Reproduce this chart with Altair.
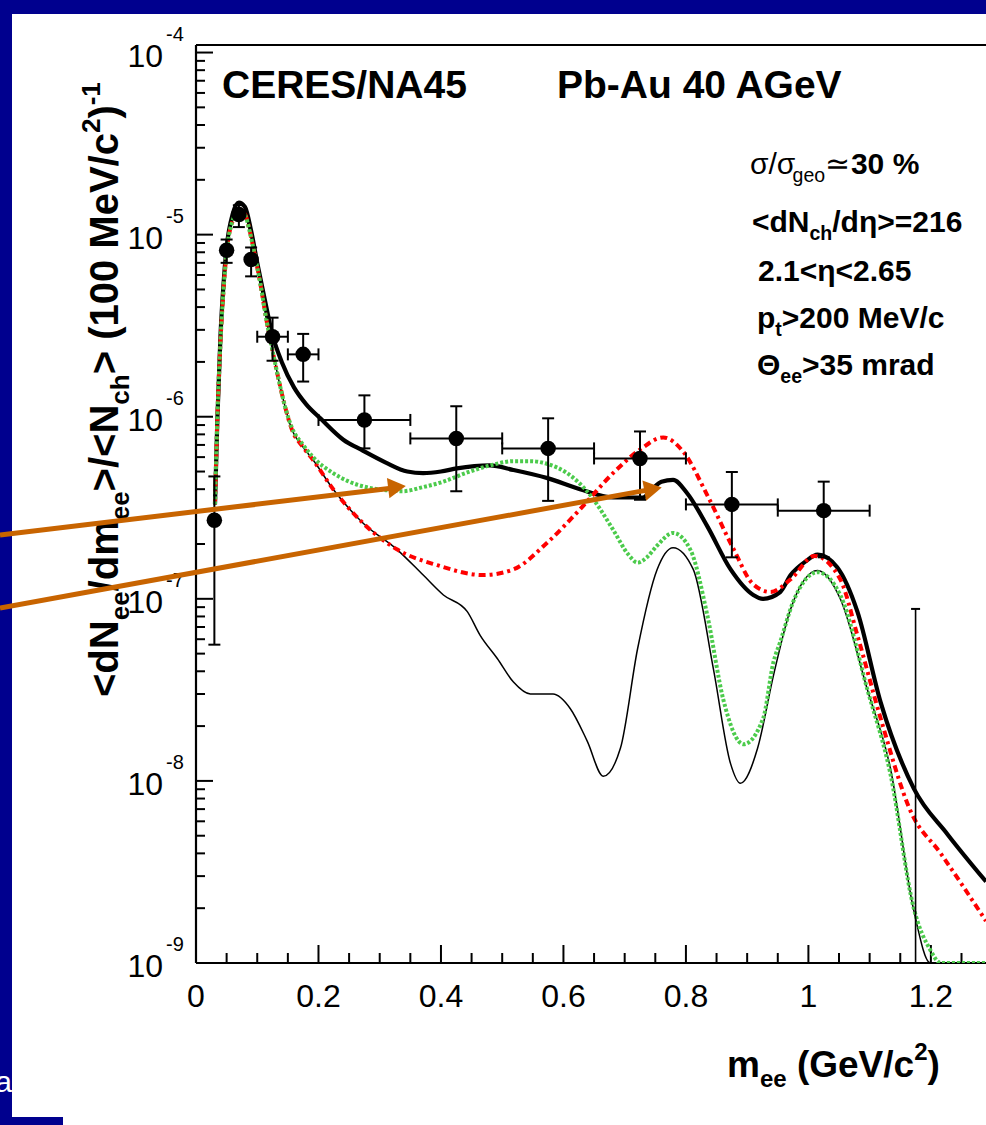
import altair as alt
import pandas as pd

# ---------------- data ----------------
thick_m = [0.031,0.035,0.04,0.045,0.05,0.06,0.07,0.08,0.09,0.10,0.11,0.125,0.14,0.16,0.18,0.203,0.24,0.273,0.31,0.345,0.371,0.40,0.426,0.48,0.518,0.574,0.627,0.681,0.73,0.745,0.76,0.779,0.802,0.835,0.873,0.91,0.926,0.954,0.971,0.995,1.015,1.047,1.08,1.118,1.172,1.227,1.29]
thick_v = [3.3e-7,1.0e-6,2.8e-6,5.4e-6,8.5e-6,1.3e-5,1.5e-5,1.42e-5,1.05e-5,7.0e-6,4.8e-6,2.8e-6,2.0e-6,1.45e-6,1.17e-6,9.8e-7,7.5e-7,6.5e-7,5.6e-7,5.0e-7,4.9e-7,5.0e-7,5.2e-7,5.4e-7,5.1e-7,4.6e-7,4.0e-7,3.6e-7,3.6e-7,4.0e-7,4.4e-7,4.5e-7,3.8e-7,2.5e-7,1.45e-7,1.05e-7,1.0e-7,1.09e-7,1.35e-7,1.6e-7,1.75e-7,1.49e-7,8.5e-8,2.7e-8,9.1e-9,5.1e-9,2.8e-9]

red_m = [0.031,0.035,0.04,0.045,0.05,0.06,0.07,0.08,0.088,0.095,0.105,0.115,0.125,0.135,0.145,0.156,0.175,0.191,0.224,0.273,0.328,0.394,0.469,0.518,0.574,0.627,0.681,0.725,0.763,0.796,0.835,0.877,0.91,0.938,0.971,1.01,1.052,1.08,1.118,1.167,1.216,1.29]
red_v = [3.3e-7,1.0e-6,2.6e-6,5.0e-6,8.0e-6,1.2e-5,1.38e-5,1.3e-5,1.04e-5,8.0e-6,5.4e-6,3.4e-6,2.3e-6,1.6e-6,1.15e-6,8.6e-7,6.8e-7,5.8e-7,4.0e-7,2.6e-7,1.87e-7,1.53e-7,1.35e-7,1.45e-7,2.04e-7,3.1e-7,4.9e-7,6.6e-7,7.7e-7,6.4e-7,3.7e-7,1.9e-7,1.2e-7,1.09e-7,1.28e-7,1.72e-7,1.28e-7,6.3e-8,2.2e-8,6.8e-9,4.0e-9,1.7e-9]

green_m = [0.031,0.035,0.04,0.045,0.05,0.06,0.07,0.08,0.088,0.095,0.105,0.115,0.125,0.135,0.145,0.156,0.175,0.191,0.224,0.25,0.279,0.31,0.338,0.37,0.404,0.44,0.48,0.518,0.547,0.574,0.606,0.644,0.681,0.706,0.721,0.737,0.753,0.779,0.807,0.835,0.861,0.894,0.926,0.943,0.954,0.975,1.015,1.052,1.096,1.134,1.172,1.199,1.216,1.29]
green_v = [3.3e-7,1.0e-6,2.6e-6,5.0e-6,8.0e-6,1.2e-5,1.36e-5,1.28e-5,1.03e-5,8.0e-6,5.4e-6,3.4e-6,2.3e-6,1.6e-6,1.15e-6,8.8e-7,7.0e-7,6.0e-7,4.9e-7,4.4e-7,4.1e-7,3.95e-7,3.9e-7,4.1e-7,4.4e-7,4.9e-7,5.4e-7,5.7e-7,5.7e-7,5.5e-7,4.9e-7,3.7e-7,2.4e-7,1.75e-7,1.58e-7,1.7e-7,1.96e-7,2.3e-7,1.87e-7,8.1e-8,2.8e-8,1.59e-8,2.2e-8,4.5e-8,5.8e-8,9.6e-8,1.4e-7,1.05e-7,3.2e-8,1.09e-8,2.0e-9,1.18e-9,1.0e-9,1.0e-9]

thin_m = [0.031,0.035,0.04,0.045,0.05,0.06,0.07,0.08,0.088,0.095,0.105,0.115,0.125,0.135,0.145,0.156,0.175,0.191,0.224,0.273,0.328,0.371,0.404,0.443,0.464,0.492,0.518,0.546,0.583,0.611,0.639,0.665,0.693,0.721,0.753,0.779,0.812,0.845,0.873,0.889,0.917,0.943,0.971,1.015,1.052,1.096,1.134,1.172,1.199,1.22]
thin_v = [3.3e-7,1.0e-6,2.6e-6,5.0e-6,8.0e-6,1.2e-5,1.36e-5,1.28e-5,1.03e-5,8.0e-6,5.4e-6,3.4e-6,2.3e-6,1.6e-6,1.15e-6,8.6e-7,6.8e-7,5.8e-7,4.0e-7,2.6e-7,1.87e-7,1.35e-7,1.05e-7,8.5e-8,6.3e-8,4.7e-8,3.5e-8,3.0e-8,3.0e-8,2.5e-8,1.65e-8,1.06e-8,1.51e-8,5.3e-8,1.45e-7,1.91e-7,1.45e-7,4.1e-8,1.24e-8,9.7e-9,1.51e-8,3.8e-8,8.8e-8,1.43e-7,1.0e-7,3.2e-8,1.17e-8,1.95e-9,1.0e-9,1.0e-9]

pt_m = [0.03,0.05,0.07,0.09,0.125,0.175,0.275,0.425,0.575,0.725,0.875,1.025]
pt_v = [2.7e-7,8.2e-6,1.29e-5,7.3e-6,2.75e-6,2.2e-6,9.6e-7,7.6e-7,6.7e-7,5.9e-7,3.3e-7,3.05e-7]
pt_lo = [5.6e-8,7.0e-6,1.1e-5,5.9e-6,2.03e-6,1.56e-6,6.7e-7,3.9e-7,3.45e-7,3.5e-7,1.69e-7,1.69e-7]
pt_hi = [4.7e-7,9.4e-6,1.45e-5,8.5e-6,3.5e-6,2.85e-6,1.31e-6,1.14e-6,9.8e-7,8.3e-7,4.97e-7,4.4e-7]
pt_xerr = [0,0,0,0,0.025,0.025,0.075,0.075,0.075,0.075,0.075,0.075]

bar_m = [1.175]
bar_lo = [1.0e-9]
bar_hi = [8.8e-8]

y_major = [1e-9, 1e-8, 1e-7, 1e-6, 1e-5, 1e-4]
y_exp = ["-9", "-8", "-7", "-6", "-5", "-4"]
x_major = [0.0, 0.2, 0.4, 0.6, 0.8, 1.0, 1.2]
x_labels = ["0", "0.2", "0.4", "0.6", "0.8", "1", "1.2"]

# ---------------- layout constants ----------------
W, H = 790, 918
PL, PT = 196, 45
FONT = "Liberation Sans"
BLUE = "#00008E"
ORANGE = "#C86400"

xs = alt.Scale(domain=[0, 1.29], nice=False, zero=False)
ys = alt.Scale(type="log", domain=[1e-9, 1.1e-4], nice=False)

REG = {' ':278,'(':333,')':333,'-':333,'/':278,'.':278,'<':584,'>':584,'=':584,'%':889,
       'a':556,'c':500,'d':556,'e':556,'g':556,'h':556,'m':833,'o':556,'p':556,'r':333,'t':278,
       'A':667,'C':722,'E':667,'G':778,'M':833,'N':722,'P':667,'R':722,'S':667,'V':667,'b':556,'u':556,
       'σ':570,'η':560,'Θ':778,'≃':584}
BOLD = {' ':278,'(':333,')':333,'-':333,'/':278,'.':278,'<':584,'>':584,'=':584,'%':889,
        'a':556,'c':556,'d':611,'e':556,'g':611,'h':611,'m':889,'o':611,'p':611,'r':389,'t':333,
        'A':722,'C':722,'E':667,'G':778,'M':833,'N':722,'P':667,'R':722,'S':667,'V':667,'b':611,'u':611,
        'σ':610,'η':610,'Θ':778,'≃':584}


def tw(s, size, bold):
    tab = BOLD if bold else REG
    return sum(tab.get(ch, 556) for ch in s) * size / 1000.0


def piece_size(size, kind):
    return size if kind == "n" else size * 0.65


def split_lead(t):
    body = t.lstrip(" ")
    return t[: len(t) - len(body)], body


def layout_h(pieces, x0, y0, size, reg_rows, bold_rows):
    x = x0
    for t, kind, b in pieces:
        fs = piece_size(size, kind)
        dy = 0 if kind == "n" else (size * 0.28 if kind == "sub" else -size * 0.45)
        lead, body = split_lead(t)
        xr = x + tw(lead, fs, b)
        (bold_rows if b else reg_rows).append(dict(px=xr - PL, py=y0 + dy - PT, txt=body, fs=fs))
        x += tw(t, fs, b)


def layout_v(pieces, xb, y0, size, rows):
    y = y0
    for t, kind, b in pieces:
        fs = piece_size(size, kind)
        dx = 0 if kind == "n" else (size * 0.28 if kind == "sub" else -size * 0.45)
        lead, body = split_lead(t)
        yr = y - tw(lead, fs, b)
        rows.append(dict(px=xb + dx - PL, py=yr - PT, txt=body, fs=fs))
        y -= tw(t, fs, b)


reg_rows, bold_rows, rot_rows = [], [], []
# header
layout_h([("CERES/NA45", "n", True)], 222, 98, 39, reg_rows, bold_rows)
layout_h([("Pb-Au 40 AGeV", "n", True)], 557, 98, 39, reg_rows, bold_rows)
# annotation block
layout_h([("σ/σ", "n", False), ("geo", "sub", False), ("≃", "n", False), (" 30 %", "n", True)], 750, 174, 30, reg_rows, bold_rows)
layout_h([("<dN", "n", True), ("ch", "sub", True), ("/dη>=216", "n", True)], 752, 232, 30, reg_rows, bold_rows)
layout_h([("2.1<η<2.65", "n", True)], 758, 281, 30, reg_rows, bold_rows)
layout_h([("p", "n", True), ("t", "sub", True), (">200 MeV/c", "n", True)], 757, 328, 30, reg_rows, bold_rows)
layout_h([("Θ", "n", True), ("ee", "sub", True), (">35 mrad", "n", True)], 757, 375, 30, reg_rows, bold_rows)
# x axis title
layout_h([("m", "n", True), ("ee", "sub", True), (" (GeV/c", "n", True), ("2", "sup", True), (")", "n", True)], 727, 1077, 37, reg_rows, bold_rows)
# y axis title (rotated)
layout_v([("<dN", "n", True), ("ee", "sub", True), ("/dm", "n", True), ("ee", "sub", True),
          (">/<N", "n", True), ("ch", "sub", True), ("> (100 MeV/c", "n", True), ("2", "sup", True),
          (")", "n", True), ("-1", "sup", True)], 118, 697, 40, rot_rows)


def text_layer(rows, weight, angle=0, color="black"):
    return alt.Chart(pd.DataFrame(rows)).mark_text(
        align="left", baseline="alphabetic", font=FONT, fontWeight=weight, angle=angle, color=color
    ).encode(
        x=alt.X("px:Q", scale=None, axis=None),
        y=alt.Y("py:Q", scale=None, axis=None),
        text="txt:N",
        size=alt.Size("fs:Q", scale=None, legend=None),
    )


dummy = pd.DataFrame({"d": [0]})


def rect(x1, x2, y1, y2, color):
    return alt.Chart(dummy).mark_rect(color=color).encode(
        x=alt.value(x1), x2=alt.value(x2), y=alt.value(y1), y2=alt.value(y2))


def rule(x1, x2, y1, y2, color="black", width=2.2):
    return alt.Chart(dummy).mark_rule(color=color, strokeWidth=width).encode(
        x=alt.value(x1), x2=alt.value(x2), y=alt.value(y1), y2=alt.value(y2))


X = alt.X("m:Q", scale=xs, axis=None)
Y = alt.Y("v:Q", scale=ys, axis=None)


def curve(ms, vs, color, width, dash=None):
    kw = dict(color=color, strokeWidth=width, clip=True, interpolate="monotone")
    if dash:
        kw["strokeDash"] = dash
    return alt.Chart(pd.DataFrame({"m": ms, "v": vs})).mark_line(**kw).encode(x=X, y=Y)


layers = []
# slide background pieces
layers.append(rect(-PL, -PL + 12, -PT, 1125 - PT, BLUE))
layers.append(rect(-PL, W, -PT, -PT + 14, BLUE))
layers.append(rect(-PL, -PL + 63, 1117 - PT, 1125 - PT, BLUE))
layers.append(alt.Chart(dummy).mark_text(align="right", baseline="alphabetic", font=FONT, fontSize=30,
                                         color="white").encode(
    x=alt.value(-PL + 12), y=alt.value(1092 - PT), text=alt.value("a")))

# frame
layers.append(rule(0, W, 0, 0))
layers.append(rule(0, 0, 0, H))
layers.append(rule(0, W, H, H))

# ticks
y_minor = [k * 10.0 ** e for e in range(-9, -4) for k in range(2, 10)]
x_minor = [round(0.05 * i, 2) for i in range(1, 26) if i % 4 != 0]
layers.append(alt.Chart(pd.DataFrame({"v": y_major})).mark_rule(color="black", strokeWidth=2).encode(
    y=Y, x=alt.value(0), x2=alt.value(17)))
layers.append(alt.Chart(pd.DataFrame({"v": y_minor})).mark_rule(color="black", strokeWidth=2).encode(
    y=Y, x=alt.value(0), x2=alt.value(9)))
layers.append(alt.Chart(pd.DataFrame({"m": x_major})).mark_rule(color="black", strokeWidth=2).encode(
    x=X, y=alt.value(H), y2=alt.value(H - 18)))
layers.append(alt.Chart(pd.DataFrame({"m": x_minor})).mark_rule(color="black", strokeWidth=2).encode(
    x=X, y=alt.value(H), y2=alt.value(H - 10)))

# tick labels
layers.append(alt.Chart(pd.DataFrame({"v": y_major, "t": ["10"] * 6})).mark_text(
    align="right", baseline="middle", font=FONT, fontSize=32, dy=4, color="black").encode(
    y=Y, x=alt.value(-33), text="t:N"))
layers.append(alt.Chart(pd.DataFrame({"v": y_major, "t": y_exp})).mark_text(
    align="left", baseline="middle", font=FONT, fontSize=20, dy=-18, color="black").encode(
    y=Y, x=alt.value(-30), text="t:N"))
layers.append(alt.Chart(pd.DataFrame({"m": x_major, "t": x_labels})).mark_text(
    align="center", baseline="middle", font=FONT, fontSize=32, color="black").encode(
    x=X, y=alt.value(H + 34), text="t:N"))

# curves
layers.append(curve(thick_m, thick_v, "black", 4.2))
layers.append(curve(thin_m, thin_v, "black", 1.5))
layers.append(curve(red_m, red_v, "#FF0000", 4, [7, 4, 3, 4]))
layers.append(curve(green_m, green_v, "#4CCB4C", 4, [3, 2]))

# data points with error bars
pdf = pd.DataFrame({"m": pt_m, "v": pt_v, "lo": pt_lo, "hi": pt_hi, "xe": pt_xerr})
pdf["xl"] = pdf["m"] - pdf["xe"]
pdf["xh"] = pdf["m"] + pdf["xe"]
xdf = pdf[pdf["xe"] > 0]
bdf = pd.DataFrame({"m": bar_m, "lo": bar_lo, "hi": bar_hi})

layers.append(alt.Chart(pdf).mark_rule(color="black", strokeWidth=2).encode(
    x=X, y=alt.Y("lo:Q", scale=ys, axis=None), y2="hi:Q"))
layers.append(alt.Chart(pdf).mark_tick(orient="horizontal", size=12, thickness=2, color="black", opacity=1).encode(
    x=X, y=alt.Y("lo:Q", scale=ys, axis=None)))
layers.append(alt.Chart(pdf).mark_tick(orient="horizontal", size=12, thickness=2, color="black", opacity=1).encode(
    x=X, y=alt.Y("hi:Q", scale=ys, axis=None)))
layers.append(alt.Chart(xdf).mark_rule(color="black", strokeWidth=2).encode(
    x=alt.X("xl:Q", scale=xs, axis=None), x2="xh:Q", y=Y))
layers.append(alt.Chart(xdf).mark_tick(orient="vertical", size=12, thickness=2, color="black", opacity=1).encode(
    x=alt.X("xl:Q", scale=xs, axis=None), y=Y))
layers.append(alt.Chart(xdf).mark_tick(orient="vertical", size=12, thickness=2, color="black", opacity=1).encode(
    x=alt.X("xh:Q", scale=xs, axis=None), y=Y))
layers.append(alt.Chart(bdf).mark_rule(color="black", strokeWidth=1.6).encode(
    x=X, y=alt.Y("lo:Q", scale=ys, axis=None), y2="hi:Q"))
layers.append(alt.Chart(bdf).mark_tick(orient="horizontal", size=9, thickness=2, color="black", opacity=1).encode(
    x=X, y=alt.Y("hi:Q", scale=ys, axis=None)))
layers.append(alt.Chart(pdf).mark_circle(size=240, color="black", opacity=1).encode(x=X, y=Y))

# texts
layers.append(text_layer(bold_rows, "bold"))
layers.append(text_layer(reg_rows, "normal"))
layers.append(text_layer(rot_rows, "bold", angle=270))

# arrows
layers.append(rule(-PL, 201 - 6, 535 - PT, 442.5 + 0.7, ORANGE, 5))
layers.append(rule(-PL, 457 - 6, 608 - PT, 444 + 1.1, ORANGE, 5))
layers.append(alt.Chart(dummy).mark_point(shape="triangle-right", filled=True, size=420, angle=353.1,
                                          color=ORANGE, opacity=1).encode(x=alt.value(201), y=alt.value(442)))
layers.append(alt.Chart(dummy).mark_point(shape="triangle-right", filled=True, size=420, angle=349.7,
                                          color=ORANGE, opacity=1).encode(x=alt.value(457), y=alt.value(444)))

chart = alt.layer(*layers).properties(
    width=W, height=H,
    padding={"left": PL, "top": PT, "right": 0, "bottom": 1125 - PT - H},
    autosize=alt.AutoSizeParams(type="none"),
).configure_view(stroke=None).configure(background="white")

chart.save("out.html", embed_options={"renderer": "svg", "actions": False})
